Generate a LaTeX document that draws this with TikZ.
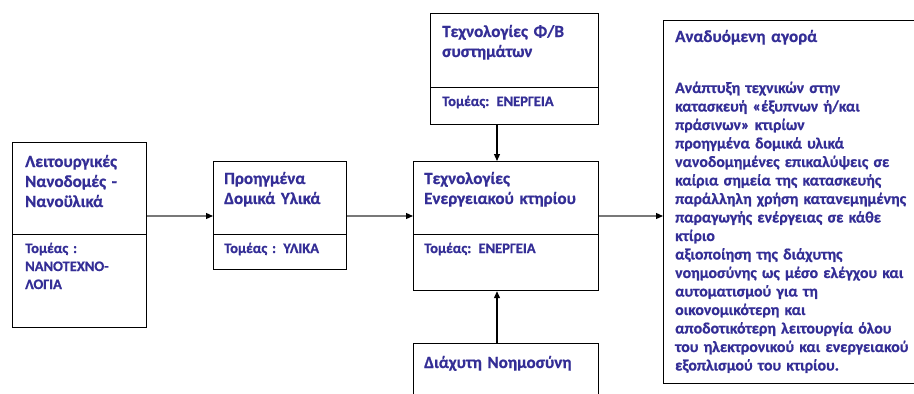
\documentclass[tikz,border=0pt]{standalone}
\usepackage{fontspec}
\setmainfont{Carlito}[Extension=.ttf, UprightFont=*-Regular, BoldFont=*-Bold, BoldFeatures={FakeBold=0.8}]
\usetikzlibrary{calc,arrows.meta}
\definecolor{txt}{RGB}{52,46,150}
\definecolor{conn}{RGB}{120,120,120}
\begin{document}
\begin{tikzpicture}[x=1pt,y=-1pt,
  box/.style={draw=black, line width=1.2pt, anchor=north west, inner sep=0pt},
  ttl/.style={anchor=base west, inner sep=0pt, align=left, text width=#1, text=txt,
    font=\bfseries\fontsize{17}{20}\selectfont},
  sub/.style={anchor=base west, inner sep=0pt, align=left, text width=#1, text=txt,
    font=\bfseries\fontsize{14.5}{18}\selectfont},
  body/.style={anchor=base west, inner sep=0pt, align=left, text width=#1, text=txt,
    font=\bfseries\fontsize{15.8}{18.5}\selectfont},
  harrow/.style={draw=conn, line width=1.2pt, -{Triangle[color=black,length=7pt,width=6pt]}},
  varrow/.style={draw=black, line width=1.2pt, -{Triangle[length=7pt,width=6pt]}}
]
\useasboundingbox (0,0) rectangle (914,394);
\clip (0,0) rectangle (914,394);

% Box 1
\node[box, minimum width=134pt, minimum height=92pt] (b1t) at (12,142) {};
\node[box, minimum width=134pt, minimum height=93pt] (b1b) at (12,234) {};
\node[ttl=125pt] (t1) at (25,167) {Λειτουργικές\\Νανοδομές -\\Νανοϋλικά};
\node[sub=125pt] (s1) at (25,253) {Τομέας :\\ΝΑΝΟΤΕΧΝΟ-\\ΛΟΓΙΑ};

% Box 2
\node[box, minimum width=133pt, minimum height=73pt] (b2t) at (213,161) {};
\node[box, minimum width=133pt, minimum height=35pt] (b2b) at (213,234) {};
\node[ttl=125pt] (t2) at (224,184) {Προηγμένα\\Δομικά Υλικά};
\node[sub=125pt] (s2) at (224,253) {Τομέας : ΥΛΙΚΑ};

% Box 3
\node[box, minimum width=168pt, minimum height=74pt] (b3t) at (430,13) {};
\node[box, minimum width=168pt, minimum height=37pt] (b3b) at (430,87) {};
\node[ttl=155pt] (t3) at (442,37) {Τεχνολογίες Φ/Β\\συστημάτων};
\node[sub=155pt] (s3) at (442,106) {Τομέας: ΕΝΕΡΓΕΙΑ};

% Box 4
\node[box, minimum width=185pt, minimum height=73pt] (b4t) at (413,161) {};
\node[box, minimum width=185pt, minimum height=56pt] (b4b) at (413,234) {};
\node[ttl=175pt] (t4) at (424,184) {Τεχνολογίες\\Ενεργειακού κτηρίου};
\node[sub=175pt] (s4) at (424,253) {Τομέας: ΕΝΕΡΓΕΙΑ};

% Box 5
\node[box, minimum width=185pt, minimum height=80pt] (b5) at (413,343) {};
\node[ttl=175pt] (t5) at (424,368) {Διάχυτη Νοημοσύνη};

% Box 6
\node[box, minimum width=270pt, minimum height=363pt] (b6) at (663,20) {};
\node[ttl=245pt] (t6) at (675,42) {Αναδυόμενη αγορά};
\node[body=245pt] (x6) at (675,93) {Ανάπτυξη τεχνικών στην\\
κατασκευή «έξυπνων ή/και\\
πράσινων» κτιρίων\\
προηγμένα δομικά υλικά\\
νανοδομημένες επικαλύψεις σε\\
καίρια σημεία της κατασκευής\\
παράλληλη χρήση κατανεμημένης\\
παραγωγής ενέργειας σε κάθε\\
κτίριο\\
αξιοποίηση της διάχυτης\\
νοημοσύνης ως μέσο ελέγχου και\\
αυτοματισμού για τη\\
οικονομικότερη και\\
αποδοτικότερη λειτουργία όλου\\
του ηλεκτρονικού και ενεργειακού\\
εξοπλισμού του κτιρίου.};

% Connectors
\coordinate (h) at (0,216);
\coordinate (v) at (497,0);
\draw[harrow] (b1t.east |- h) -- (b2t.west |- h);
\draw[harrow] (b2t.east |- h) -- (b4t.west |- h);
\draw[harrow] (b4t.east |- h) -- (b6.west |- h);
\draw[varrow] (b3b.south -| v) -- (b4t.north -| v);
\draw[varrow] (b5.north -| v) -- (b4b.south -| v);
\end{tikzpicture}
\end{document}
